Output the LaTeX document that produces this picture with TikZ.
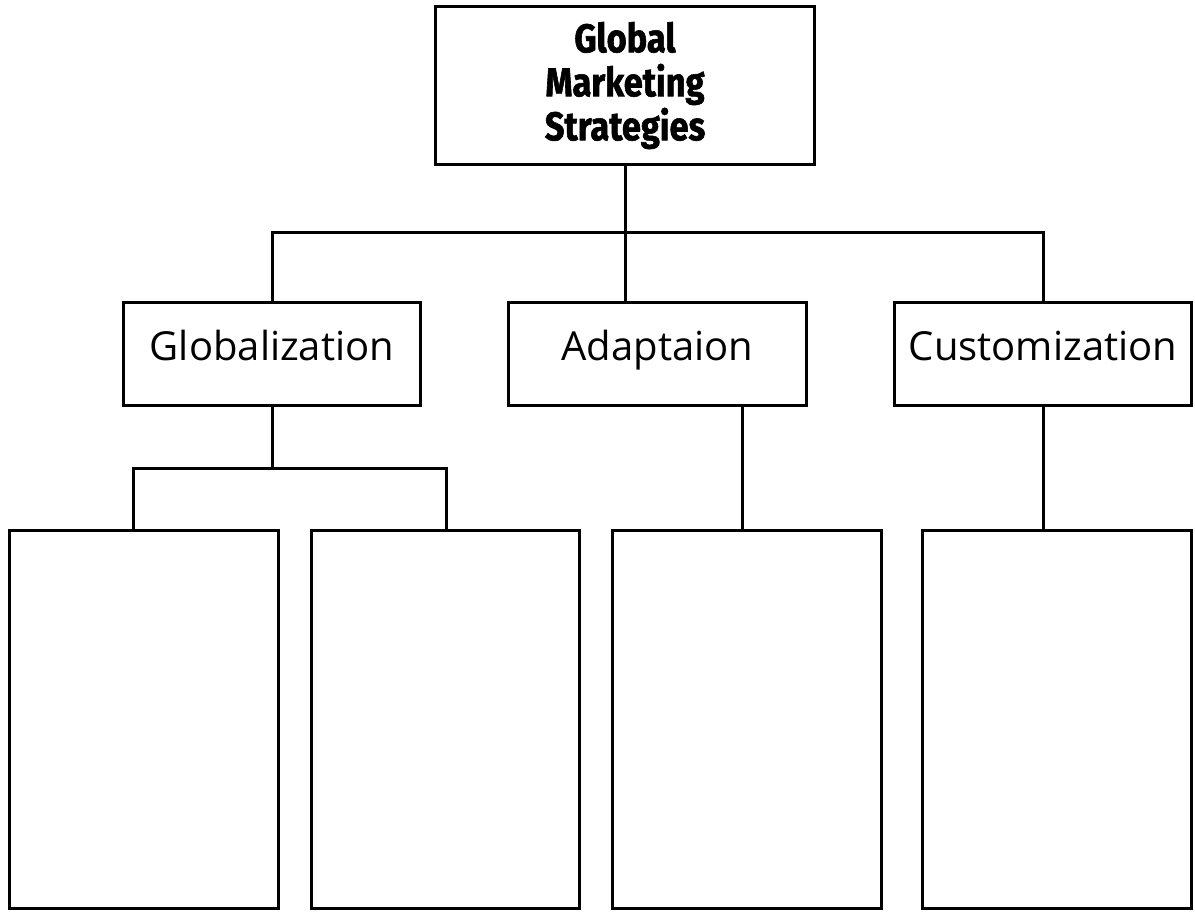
\documentclass[tikz,border=0pt]{standalone}
\usepackage{fontspec}
\setmainfont{Open Sans}
\newfontfamily\condfont[FakeStretch=0.86,BoldFeatures={FakeBold=1.5}]{Fira Sans}
\begin{document}
\begin{tikzpicture}[x=1pt,y=-1pt,
  box/.style={draw=black,line width=3pt,fill=white,inner sep=0pt,outer sep=0pt,align=center},
  conn/.style={draw=black,line width=3pt,line join=miter},
  midtext/.style={font=\fontsize{40}{44}\selectfont,text height=30pt,text depth=18pt},
  toptext/.style={font=\condfont\bfseries\fontsize{40}{44}\selectfont}]
\useasboundingbox (0,0) rectangle (1195,912);
\node[box,toptext,minimum width=379pt,minimum height=158pt] (top) at (625,85.5) {Global\\Marketing\\Strategies};
\node[box,midtext,minimum width=297pt,minimum height=103pt] (glob) at (272,354) {Globalization};
\node[box,midtext,minimum width=298pt,minimum height=103pt] (adapt) at (657.5,354) {Adaptaion};
\node[box,midtext,minimum width=297pt,minimum height=103pt] (cust) at (1043,354) {Customization};
\node[box,minimum width=269pt,minimum height=378pt] (b1) at (144,719.5) {};
\node[box,minimum width=268pt,minimum height=378pt] (b2) at (445.5,719.5) {};
\node[box,minimum width=269pt,minimum height=378pt] (b3) at (747,719.5) {};
\node[box,minimum width=269pt,minimum height=378pt] (b4) at (1057,719.5) {};
\coordinate (j1) at (625,233);
\coordinate (j2) at (272,468);
\coordinate (c1) at (133,468);
\coordinate (c2) at (446,468);
\coordinate (a3) at (742,407);
\draw[conn] (top.south) -- (j1);
\draw[conn] (glob.north) |- (j1) -| (cust.north);
\draw[conn] (j1) -- (j1 |- adapt.north);
\draw[conn] (glob.south) -- (j2);
\draw[conn] (c1 |- b1.north) -- (c1) -- (c2) -- (c2 |- b2.north);
\draw[conn] (adapt.south -| a3) -- (b3.north -| a3);
\draw[conn] (cust.south) -- (cust.south |- b4.north);
\end{tikzpicture}
\end{document}
